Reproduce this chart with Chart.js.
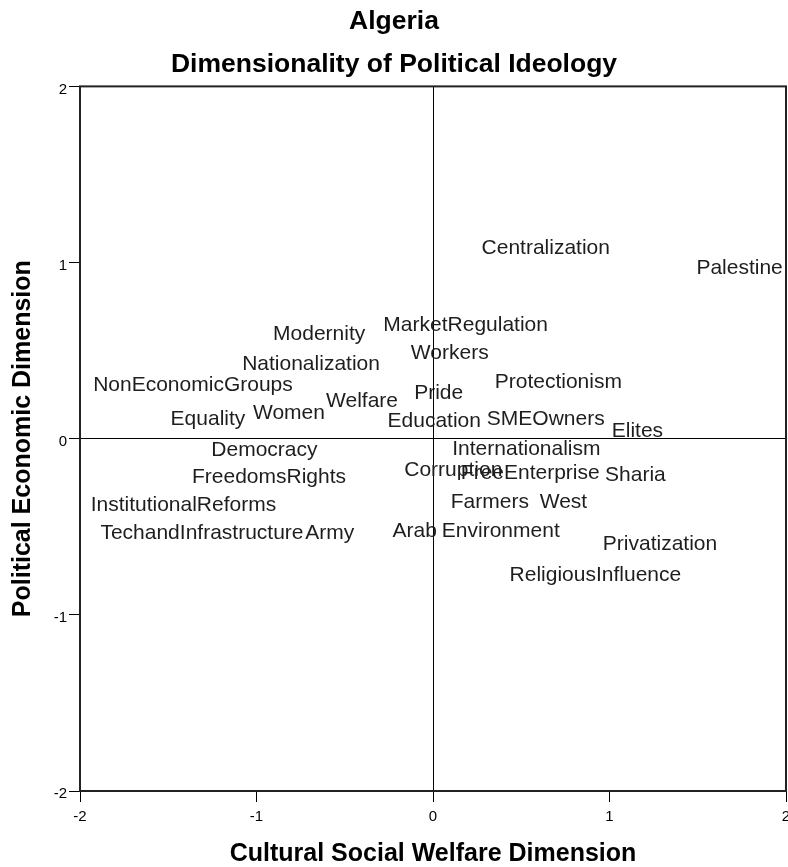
<!DOCTYPE html>
<html>
<head>
<meta charset="utf-8">
<script src="https://cdn.jsdelivr.net/npm/chart.js@4"></script>
<style>
  body { margin: 0; background: #fff; }
</style>
</head>
<body>
<canvas id="ideology" width="788" height="867"></canvas>
<script>
const FONT = "'Liberation Sans', Arial, sans-serif";

const topics = ['Centralization', 'Palestine', 'MarketRegulation', 'Modernity', 'Workers',
    'Nationalization', 'NonEconomicGroups', 'Protectionism', 'Pride', 'Welfare',
    'Women', 'Equality', 'Education', 'SMEOwners', 'Elites',
    'Internationalism', 'Democracy', 'Corruption', 'FreeEnterprise', 'Sharia',
    'FreedomsRights', 'Farmers', 'West', 'InstitutionalReforms', 'TechandInfrastructure',
    'Army', 'Arab', 'Environment', 'Privatization', 'ReligiousInfluence'];

// cultural / social welfare dimension
const culturalScores = [0.639, 1.737, 0.185, -0.645, 0.095,
    -0.691, -1.360, 0.710, 0.032, -0.402,
    -0.816, -1.275, 0.007, 0.639, 1.158,
    0.529, -0.955, 0.115, 0.551, 1.147,
    -0.929, 0.322, 0.739, -1.414, -1.309,
    -0.585, -0.104, 0.384, 1.286, 0.920];

// political / economic dimension
const economicScores = [1.082, 0.969, 0.646, 0.595, 0.487,
    0.425, 0.306, 0.323, 0.261, 0.215,
    0.142, 0.108, 0.102, 0.108, 0.040,
    -0.057, -0.068, -0.181, -0.198, -0.210,
    -0.221, -0.363, -0.363, -0.380, -0.538,
    -0.538, -0.527, -0.527, -0.601, -0.776];

const axisTicks = [-2, -1, 0, 1, 2];

const points = topics.map((t, i) => ({ x: culturalScores[i], y: economicScores[i] }));

// draws the topic names where the (hidden) points are
const pointLabels = {
    id: 'pointLabels',
    afterDatasetsDraw(chart) {
        const ctx = chart.ctx;
        const meta = chart.getDatasetMeta(0);
        ctx.save();
        ctx.font = '21px ' + FONT;
        ctx.fillStyle = '#1e1e1e';
        ctx.textAlign = 'center';
        ctx.textBaseline = 'middle';
        meta.data.forEach((pt, i) => {
            ctx.fillText(topics[i], pt.x, pt.y);
        });
        ctx.restore();
    }
};

// box round the plot
const frame = {
    id: 'frame',
    afterDraw(chart) {
        const { ctx, chartArea: a } = chart;
        ctx.save();
        ctx.strokeStyle = '#222';
        ctx.lineWidth = 2;
        ctx.strokeRect(a.left, a.top, a.right - a.left, a.bottom - a.top);
        ctx.restore();
    }
};

const zeroLine = (c) => (c.tick && c.tick.value === 0) ? '#000' : 'rgba(0,0,0,0)';

new Chart(document.getElementById('ideology'), {
    type: 'scatter',
    data: {
        datasets: [{
            data: points,
            pointRadius: 0,
            pointHoverRadius: 0,
            showLine: false
        }]
    },
    options: {
        responsive: false,
        animation: false,
        layout: { padding: 0 },
        plugins: {
            legend: { display: false },
            tooltip: { enabled: false },
            title: {
                display: true,
                text: ['Algeria', 'Dimensionality of Political Ideology'],
                color: '#000',
                font: { family: FONT, size: 26.5, weight: 'bold', lineHeight: 1.63 },
                padding: 0
            }
        },
        scales: {
            x: {
                type: 'linear',
                min: -2,
                max: 2,
                afterBuildTicks: (s) => { s.ticks = axisTicks.map(v => ({ value: v })); },
                afterFit: (s) => { s.height = 76; s.paddingLeft = 0; s.paddingRight = 2; },
                border: { display: false },
                grid: { color: zeroLine, lineWidth: 1, tickColor: '#000', tickLength: 11, drawTicks: true },
                ticks: { color: '#000', padding: 6, font: { family: FONT, size: 15 } },
                title: {
                    display: true,
                    text: 'Cultural Social Welfare Dimension',
                    color: '#000',
                    font: { family: FONT, size: 25, weight: 'bold', lineHeight: 1 },
                    padding: 0
                }
            },
            y: {
                type: 'linear',
                min: -2,
                max: 2,
                afterBuildTicks: (s) => { s.ticks = axisTicks.map(v => ({ value: v })); },
                afterFit: (s) => { s.width = 80; s.paddingTop = 0; s.paddingBottom = 0; },
                border: { display: false },
                grid: { color: zeroLine, lineWidth: 1, tickColor: '#000', tickLength: 11, drawTicks: true },
                ticks: { color: '#000', padding: 2, labelOffset: 3, font: { family: FONT, size: 15 } },
                title: {
                    display: true,
                    text: 'Political Economic Dimension',
                    color: '#000',
                    font: { family: FONT, size: 25, weight: 'bold', lineHeight: 1 },
                    padding: { top: 11, bottom: 0 }
                }
            }
        }
    },
    plugins: [pointLabels, frame]
});
</script>
</body>
</html>
